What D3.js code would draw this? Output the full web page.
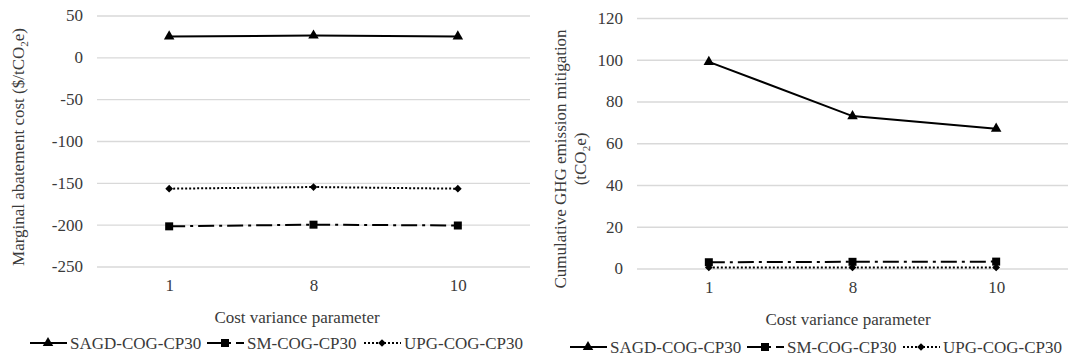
<!DOCTYPE html>
<html>
<head>
<meta charset="utf-8">
<script src="https://cdn.jsdelivr.net/npm/d3@7"></script>
<style>
  body { margin: 0; background: #fff; }
  svg, svg text { font-family: "Liberation Serif", "Times New Roman", serif; }
  .tick text { font-size: 17px; fill: #3a3a3a; }
  .grid line { stroke: #d9d9d9; stroke-width: 1.3; }
</style>
</head>
<body>
<svg id="chart" width="1070" height="359"></svg>
<script>
// categories and values
var params = ["1", "8", "10"];
var seriesNames = ["SAGD-COG-CP30", "SM-COG-CP30", "UPG-COG-CP30"];

var macSAGD = [25, 26, 25];
var macSM   = [-202, -200, -201];
var macUPG  = [-157, -155, -157];

var cumSAGD = [99, 73, 67];
var cumSM   = [3, 3.2, 3.3];
var cumUPG  = [0.5, 0.5, 0.5];

var leftTicks  = [50, 0, -50, -100, -150, -200, -250];
var rightTicks = [0, 20, 40, 60, 80, 100, 120];

var FONT = '"Liberation Serif", "Times New Roman", serif';

var styles = [
  { dash: null,       marker: d3.symbolTriangle, size: 48, rot: 0 },
  { dash: "16,5,3,5", marker: d3.symbolSquare,   size: 64, rot: 0 },
  { dash: "2,2",      marker: d3.symbolSquare,   size: 30, rot: 45 }
];

var svg = d3.select("#chart");

function cleanAxis(s) {
  s.select(".domain").remove();
  s.attr("font-family", FONT).attr("font-size", 17);
  s.selectAll("text").attr("font-family", FONT);
}

function panel(opt) {
  var x = d3.scalePoint().domain(params).range([opt.x0, opt.x1]).padding(0.5);
  var y = d3.scaleLinear().domain(opt.domain).range([opt.yb, opt.yt]);
  var g = svg.append("g");

  // gridlines
  g.append("g").attr("class", "grid")
    .attr("transform", "translate(" + opt.x0 + ",0)")
    .call(d3.axisLeft(y).tickValues(opt.ticks).tickSize(-(opt.x1 - opt.x0)).tickFormat(""))
    .call(cleanAxis);

  // y labels (plain hyphen for negatives, like the original)
  g.append("g")
    .attr("transform", "translate(" + opt.x0 + ",0)")
    .call(d3.axisLeft(y).tickValues(opt.ticks).tickSize(0).tickPadding(14).tickFormat(String))
    .call(cleanAxis);

  // x labels
  g.append("g")
    .attr("transform", "translate(0," + opt.yb + ")")
    .call(d3.axisBottom(x).tickSize(0).tickPadding(12))
    .call(cleanAxis);

  // series
  opt.data.forEach(function(vals, i) {
    var st = styles[i];
    var line = d3.line()
      .x(function(d, j){ return x(params[j]); })
      .y(function(d){ return y(d); });
    g.append("path").datum(vals)
      .attr("d", line)
      .attr("fill", "none")
      .attr("stroke", "#000")
      .attr("stroke-width", 2)
      .attr("stroke-dasharray", st.dash);
    g.selectAll(null).data(vals).enter().append("path")
      .attr("transform", function(d, j){ return "translate(" + x(params[j]) + "," + y(d) + ") rotate(" + st.rot + ")"; })
      .attr("d", d3.symbol().type(st.marker).size(st.size))
      .attr("fill", "#000");
  });

  // x title
  g.append("text")
    .attr("x", opt.xt).attr("y", opt.yb + 56)
    .attr("text-anchor", "middle")
    .attr("font-size", 17).attr("fill", "#3a3a3a")
    .text("Cost variance parameter");

  // legend
  var lg = g.append("g").attr("transform", "translate(0," + opt.legY + ")");
  seriesNames.forEach(function(name, i) {
    var st = styles[i], lx = opt.legX[i];
    lg.append("line")
      .attr("x1", lx).attr("x2", lx + 37).attr("y1", 0).attr("y2", 0)
      .attr("stroke", "#000").attr("stroke-width", 2)
      .attr("stroke-dasharray", st.dash);
    lg.append("path")
      .attr("transform", "translate(" + (lx + 18) + ",0) rotate(" + st.rot + ")")
      .attr("d", d3.symbol().type(st.marker).size(st.size))
      .attr("fill", "#000");
    lg.append("text")
      .attr("x", lx + 40).attr("y", 0).attr("dy", "0.35em")
      .attr("font-size", 17).attr("fill", "#3a3a3a")
      .text(name);
  });
  return g;
}

var left = panel({
  x0: 97, x1: 530, yb: 266.5, yt: 15.5, domain: [-250, 50], ticks: leftTicks,
  data: [macSAGD, macSM, macUPG], xt: 297, legY: 343, legX: [30, 207, 364]
});
var lt = left.append("text")
  .attr("transform", "translate(24,147) rotate(-90)")
  .attr("text-anchor", "middle")
  .attr("font-size", 17).attr("fill", "#3a3a3a");
lt.append("tspan").text("Marginal abatement cost ($/tCO");
lt.append("tspan").attr("font-size", 11).attr("dy", 4).text("2");
lt.append("tspan").attr("dy", -4).text("e)");

var right = panel({
  x0: 637, x1: 1068, yb: 268.5, yt: 18, domain: [0, 120], ticks: rightTicks,
  data: [cumSAGD, cumSM, cumUPG], xt: 848, legY: 347, legX: [570, 747, 903]
});
var rt = right.append("text")
  .attr("transform", "translate(566,159) rotate(-90)")
  .attr("text-anchor", "middle")
  .attr("font-size", 17).attr("fill", "#3a3a3a");
rt.append("tspan").text("Cumulative GHG emission mitigation");
var rt2 = right.append("text")
  .attr("transform", "translate(586,159) rotate(-90)")
  .attr("text-anchor", "middle")
  .attr("font-size", 17).attr("fill", "#3a3a3a");
rt2.append("tspan").text("(tCO");
rt2.append("tspan").attr("font-size", 11).attr("dy", 4).text("2");
rt2.append("tspan").attr("dy", -4).text("e)");
</script>
</body>
</html>
